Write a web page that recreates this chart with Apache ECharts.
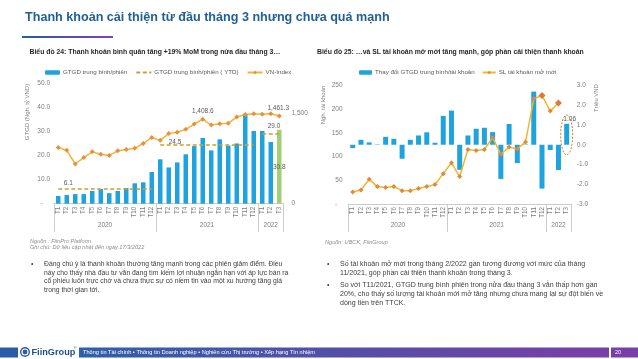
<!DOCTYPE html>
<html><head><meta charset="utf-8">
<script src="https://cdn.jsdelivr.net/npm/echarts@6/dist/echarts.min.js"></script>
<style>
html,body{margin:0;padding:0;background:#fff;}
#chart{position:absolute;left:0;top:0;width:638px;height:359px;}
</style></head><body>
<div id="chart"></div>
<script>
// ---------- DATA ----------
const months = ['T1','T2','T3','T4','T5','T6','T7','T8','T9','T10','T11','T12',
                'T1','T2','T3','T4','T5','T6','T7','T8','T9','T10','T11','T12',
                'T1','T2','T3'];
const years = ['2020','2021','2022'];
const yearStart = [0, 12, 24, 27];
// Chart 24
const gtgdAvg = [3.2,3.6,4.0,4.0,5.3,6.1,4.4,5.3,6.5,8.5,8.9,13.2,
                 18.5,15.1,17.2,20.6,24.0,27.4,22.2,26.8,24.2,25.1,37.1,30.3,
                 30.3,25.7,30.8];
const gtgdYtd = [6.1, 24.5, 29.0];
const vnIndex = [937,889,662,769,864,825,805,881,905,926,1003,1104,
                 1056,1168,1191,1239,1328,1408.6,1310,1331,1342,1444,1488,1498,
                 1492,1500,1461.3];
// Chart 25
const chgPerAcct = [-0.17,0.25,0.12,0.02,0.40,0.30,-0.71,0.25,0.47,0.63,0.10,1.46,
                    1.73,-1.27,0.47,0.81,0.86,0.64,-1.73,1.05,-0.93,0.02,2.69,-2.22,
                    -0.27,-1.28,1.06];
const newAccts = [25.4,29.7,52,36.7,34.6,36.7,28.2,28.2,32.5,36.7,41,64,
                  86.9,57.9,115,113,115,140,105,120,116,131,222,229,
                  196,213,null];

// ---------- STYLE ----------
const FONT = '"Liberation Sans", Arial, sans-serif';
const AX = '#7f7f7f';
const AXLINE = '#bfbfbf';
const BLUE = '#1fa3df';
const GREEN = '#a3cf74';
const YTD = '#c9a030';

const chart = echarts.init(document.getElementById('chart'), null, {renderer:'canvas'});

function ytdSeries(k){
  const offs = [[2,-6],[5,-2.5],[2,-8]];
  const data = [];
  for (let i = yearStart[k]; i < yearStart[k+1]; i++) {
    if (i === yearStart[k]) {
      data.push({value:[i, gtgdYtd[k]], label:{show:true, position:'right', distance:3, offset:offs[k],
        formatter: gtgdYtd[k].toFixed(1), color:'#595959', fontSize:6.5, fontFamily:FONT}});
    } else data.push([i, gtgdYtd[k]]);
  }
  return {
    type:'line', name:'GTGD trung bình/phiên ( YTD)', xAxisIndex:0, yAxisIndex:0,
    data: data,
    symbol:'circle', symbolSize:1, showSymbol:true,
    itemStyle:{color:'rgba(0,0,0,0)'},
    lineStyle:{color:YTD, width:1.5, type:[4,2.5]},
    z:3, silent:true
  };
}

const monthAxis = (grid)=>({
  type:'category', gridIndex:grid, data:months, position:'bottom',
  axisLine:{onZero:false, lineStyle:{color:AXLINE, width:0.8}},
  axisTick:{show:false},
  axisLabel:{interval:0, rotate:90, fontSize:6.3, color:AX, margin:3, fontFamily:FONT},
  splitLine:{show:false}
});
const yearAxis = (grid)=>({
  type:'value', gridIndex:grid, min:0, max:27, position:'bottom',
  axisLine:{show:false, onZero:false},
  splitLine:{show:false},
  axisTick:{show:true, customValues:yearStart, length:28, lineStyle:{color:AXLINE, width:0.8}},
  axisLabel:{customValues:[6,18,25.5], margin:18, fontSize:6.5, color:AX, fontFamily:FONT,
    formatter:(v)=> v<12 ? years[0] : (v<24 ? years[1] : years[2])}
});

const legendText = {fontSize:6.2, color:'#595959', fontFamily:FONT, padding:[0,0,0,-2]};
const option = {
  animation:false,
  backgroundColor:'#fff',
  textStyle:{fontFamily:FONT},
  title:[
    {text:'Biểu đồ 24: Thanh khoản bình quân tăng +19% MoM trong nửa đầu tháng 3…', left:29.5, top:49, padding:0,
     textStyle:{fontSize:6.85, fontWeight:'bold', color:'#262626', fontFamily:FONT}},
    {text:'Biểu đồ 25: …và SL tài khoản mở mới tăng mạnh, góp phần cải thiện thanh khoản', left:317, top:49, padding:0,
     textStyle:{fontSize:6.85, fontWeight:'bold', color:'#262626', fontFamily:FONT}}
  ],
  legend:[
    {data:['GTGD trung bình/phiên','GTGD trung bình/phiên ( YTD)','VN-Index'], left:45, top:69.5, padding:0,
     itemWidth:15, itemHeight:4.5, itemGap:8, textStyle:legendText},
    {data:['Thay đổi GTGD trung bình/tài khoản','SL tài khoản mở mới'], left:359, top:69.5, padding:0,
     itemWidth:13, itemHeight:4.5, itemGap:7, textStyle:legendText}
  ],
  grid:[
    {left:54, top:83.7, width:229.5, height:120},
    {left:348.6, top:85.5, width:222.2, height:118.5}
  ],
  xAxis:[ monthAxis(0), yearAxis(0), monthAxis(1), yearAxis(1) ],
  yAxis:[
    {type:'value', gridIndex:0, min:0, max:50, interval:10, position:'left',
     axisLine:{show:false}, axisTick:{show:false}, splitLine:{show:false},
     axisLabel:{fontSize:6.5, color:AX, margin:4, fontFamily:FONT, formatter:v=> v===0 ? '-    ' : v.toFixed(1)}},
    {type:'value', gridIndex:0, min:0, max:2000, interval:1500, position:'right',
     axisLine:{show:false}, axisTick:{show:false}, splitLine:{show:false},
     axisLabel:{fontSize:6.5, color:AX, margin:8, fontFamily:FONT, formatter:v=> v===0 ? '0' : (v===1500 ? '1,500' : '')}},
    {type:'value', gridIndex:1, min:0, max:250, interval:50, position:'left',
     axisLine:{show:false}, axisTick:{show:false}, splitLine:{show:false},
     axisLabel:{fontSize:6.5, color:AX, margin:6, fontFamily:FONT, formatter:v=> v===0 ? '-   ' : String(v)}},
    {type:'value', gridIndex:1, min:-3, max:3, interval:1, position:'right',
     axisLine:{show:false}, axisTick:{show:false}, splitLine:{show:false},
     axisLabel:{fontSize:6.5, color:AX, margin:6, fontFamily:FONT, formatter:v=> v.toFixed(1)}}
  ],
  series:[
    {type:'bar', name:'GTGD trung bình/phiên', xAxisIndex:0, yAxisIndex:0, barWidth:4.5,
     itemStyle:{color:BLUE},
     data: gtgdAvg.map((v,i)=> i===gtgdAvg.length-1 ? {value:v, itemStyle:{color:GREEN},
        label:{show:true, position:'inside', color:'#595959', fontSize:6.5, fontFamily:FONT, formatter:v.toFixed(1)}} : v),
     z:2},
    ytdSeries(0), ytdSeries(1), ytdSeries(2),
    {type:'line', name:'VN-Index', xAxisIndex:0, yAxisIndex:1,
     data: vnIndex.map((v,i)=> (i===17 || i===26) ? {value:v, label:{show:true, position:'top', distance:2,
        offset: i===26 ? [-1,0] : [0,0],
        formatter: v.toLocaleString('en-US',{minimumFractionDigits:1, maximumFractionDigits:1}),
        color:'#595959', fontSize:6.5, fontFamily:FONT}} : v),
     symbol:'diamond', symbolSize:5, showSymbol:true,
     lineStyle:{color:'#f3b33d', width:1.5}, itemStyle:{color:'#e8913a'}, z:4},

    {type:'bar', name:'Thay đổi GTGD trung bình/tài khoản', xAxisIndex:2, yAxisIndex:3, barWidth:5,
     itemStyle:{color:BLUE},
     data: chgPerAcct.map((v,i)=> i===chgPerAcct.length-1 ? {value:v,
        label:{show:true, position:'top', distance:1, offset:[3,0], color:'#595959', fontSize:6.5, fontFamily:FONT, formatter:v.toFixed(2)}} : v),
     z:2},
    {type:'line', name:'SL tài khoản mở mới', xAxisIndex:2, yAxisIndex:2,
     data: newAccts.map((v,i)=> (i===23 || i===25) ? {value:v, symbolSize:7, itemStyle:{color:'#d97b3a'}} : v),
     symbol:'diamond', symbolSize:5, showSymbol:true,
     lineStyle:{color:'#f2b72a', width:1.5}, itemStyle:{color:'#e0893c'}, z:4}
  ]
};
chart.setOption(option);

// ---------- static page decoration / texts ----------
const G = echarts.graphic;
function txt(x,y,text,o){
  o = o||{};
  return {type:'text', x:x, y:y, rotation:o.rot||0, z:10, silent:true,
    style:{text:text, fill:o.color||'#595959', fontSize:o.size||6.6, fontWeight:o.bold?'bold':'normal',
      fontStyle:o.italic?'italic':'normal', fontFamily:FONT, align:o.align||'left', verticalAlign:'middle'}};
}
const els = [];
els.push(txt(25,17.5,'Thanh khoản cải thiện từ đầu tháng 3 nhưng chưa quá mạnh',{size:12.6,bold:true,color:'#1f5f93'}));
els.push({type:'rect', shape:{x:22,y:36,width:91,height:2}, silent:true,
  style:{fill:new G.LinearGradient(0,0,1,0,[{offset:0,color:'#1f5fa0'},{offset:1,color:'#8a3fb0'}])}});
// axis names
els.push(txt(27,112,'GTGD (Ngh. tỷ VND)',{rot:Math.PI/2,align:'center',size:6,color:AX}));
els.push(txt(323,105,'Ngh. tài khoản',{rot:Math.PI/2,align:'center',size:6,color:AX}));
els.push(txt(596,98,'Triệu VND',{rot:Math.PI/2,align:'center',size:6,color:AX}));
// sources
els.push(txt(30,241.5,'Nguồn : FiinPro Platform',{italic:true,size:5.6,color:'#8c8c8c'}));
els.push(txt(30,247.5,'Ghi chú: Dữ liệu cập nhật đến ngày 17/3/2022',{italic:true,size:5.6,color:'#8c8c8c'}));
els.push(txt(325,242,'Nguồn: UBCK, FiinGroup',{italic:true,size:5.6,color:'#8c8c8c'}));
// bullets left
const bl = ['Đáng chú ý là thanh khoản thường tăng mạnh trong các phiên giảm điểm. Điều',
            'này cho thấy nhà đầu tư vẫn đang tìm kiếm lợi nhuận ngắn hạn với áp lực bán ra',
            'cổ phiếu luôn trực chờ và chưa thực sự có niềm tin vào một xu hướng tăng giá',
            'trong thời gian tới.'];
els.push(txt(31,264,'•',{size:7,color:'#404040'}));
bl.forEach((s,i)=> els.push(txt(44,264+i*8.8,s,{size:6.8,color:'#404040'})));
const br1 = ['Số tài khoản mở mới trong tháng 2/2022 gần tương đương với mức của tháng',
             '11/2021, góp phần cải thiện thanh khoản trong tháng 3.'];
const br2 = ['So với T11/2021, GTGD trung bình phiên trong nửa đầu tháng 3 vẫn thấp hơn gần',
             '20%, cho thấy số lượng tài khoản mới mở tăng nhưng chưa mang lại sự đột biến về',
             'dòng tiền trên TTCK.'];
els.push(txt(327,264,'•',{size:7,color:'#404040'}));
br1.forEach((s,i)=> els.push(txt(340,264+i*8.6,s,{size:7.05,color:'#404040'})));
els.push(txt(327,285.5,'•',{size:7,color:'#404040'}));
br2.forEach((s,i)=> els.push(txt(340,285.5+i*8.6,s,{size:7.05,color:'#404040'})));
// footer
els.push({type:'rect', shape:{x:0,y:347.5,width:18,height:10}, silent:true, style:{fill:'#2b5ca8'}});
els.push({type:'circle', shape:{cx:25,cy:352,r:5}, silent:true, style:{fill:'#2b5ca8'}});
els.push({type:'circle', shape:{cx:25,cy:352,r:3}, silent:true, style:{fill:'none', stroke:'#fff', lineWidth:1.2}});
els.push(txt(31.5,352,'FiinGroup',{size:9.2,bold:true,color:'#1f4e8c'}));
els.push(txt(74,348,'®',{size:3.5,color:'#1f4e8c'}));
els.push({type:'rect', shape:{x:79,y:347.5,width:530,height:10}, silent:true,
  style:{fill:new G.LinearGradient(0,0,1,0,[{offset:0,color:'#2f5fa8'},{offset:1,color:'#7a3ea8'}])}});
els.push(txt(83,352.6,'Thông tin Tài chính • Thông tin Doanh nghiệp • Nghiên cứu Thị trường • Xếp hạng Tín nhiệm',{size:5.65,color:'#ffffff'}));
els.push({type:'rect', shape:{x:611,y:347.5,width:27,height:10}, silent:true, style:{fill:'#7a3ea8'}});
els.push(txt(615,352.6,'20',{size:5.4,color:'#ffffff'}));
// dashed ellipse around latest bar of chart 25 (positioned via the chart's own axes)
const c = chart.convertToPixel({xAxisIndex:2, yAxisIndex:3}, [26, 0.5]);
if (c) {
  els.push({type:'ellipse', shape:{cx:c[0], cy:c[1], rx:6, ry:20}, silent:true, z:10,
    style:{fill:'none', stroke:'#d07a3a', lineWidth:1, lineDash:[2,1.5]}});
}
chart.setOption({graphic:{elements:els}});
</script>
</body></html>
